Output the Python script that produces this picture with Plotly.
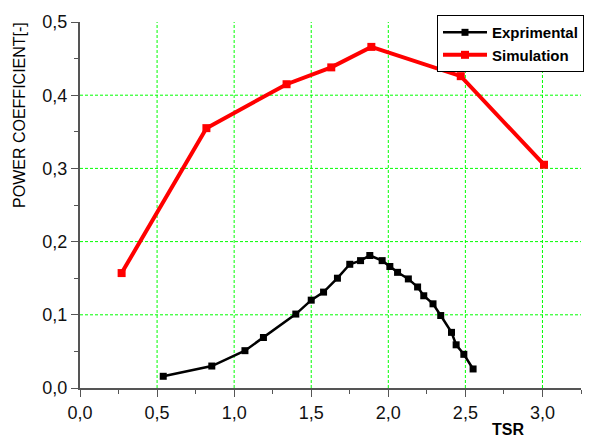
import plotly.graph_objects as go

# ---- data ----
exp_tsr = [0.54, 0.855, 1.07, 1.19, 1.40, 1.50, 1.58, 1.67, 1.75, 1.82, 1.88, 1.96,
           2.01, 2.06, 2.13, 2.19, 2.23, 2.29, 2.34, 2.41, 2.44, 2.49, 2.55]
exp_cp = [0.016, 0.030, 0.051, 0.069, 0.101, 0.120, 0.131, 0.150, 0.169, 0.174, 0.181, 0.174,
          0.166, 0.158, 0.149, 0.138, 0.126, 0.115, 0.099, 0.076, 0.059, 0.046, 0.026]
sim_tsr = [0.27, 0.82, 1.34, 1.63, 1.89, 2.47, 3.01]
sim_cp = [0.157, 0.355, 0.415, 0.438, 0.466, 0.426, 0.305]

x_ticks = [0.0, 0.5, 1.0, 1.5, 2.0, 2.5, 3.0]
y_ticks = [0.0, 0.1, 0.2, 0.3, 0.4, 0.5]
grid_x = [0.5, 1.0, 1.5, 2.0, 2.5, 3.0]
grid_y = [0.1, 0.2, 0.3, 0.4]

FONT = "Liberation Sans, Arial, sans-serif"
AXC = "#555555"
GRID = "#00ff00"

fig = go.Figure()
fig.add_trace(go.Scatter(
    x=exp_tsr, y=exp_cp, mode="lines+markers", name="Exprimental",
    line=dict(color="black", width=2.5),
    marker=dict(symbol="square", size=7, color="black"),
))
fig.add_trace(go.Scatter(
    x=sim_tsr, y=sim_cp, mode="lines+markers", name="Simulation",
    line=dict(color="#ff0000", width=4),
    marker=dict(symbol="square", size=8, color="#ff0000"),
))

shapes = []
for gx in grid_x:
    shapes.append(dict(type="line", xref="x", yref="y", x0=gx, x1=gx, y0=0, y1=0.5,
                       line=dict(color=GRID, width=1, dash="3px,2px"), layer="below"))
for gy in grid_y:
    shapes.append(dict(type="line", xref="x", yref="y", x0=0, x1=3.25, y0=gy, y1=gy,
                       line=dict(color=GRID, width=1, dash="3px,2px"), layer="below"))

fig.update_layout(
    width=597, height=439,
    margin=dict(l=80, r=16, t=18, b=51),
    paper_bgcolor="white", plot_bgcolor="white",
    separators=",.",
    font=dict(family=FONT, color="black"),
    shapes=shapes,
    showlegend=True,
    legend=dict(
        xref="paper", yref="paper", x=(584-80)/501, y=(388-11)/370,
        xanchor="right", yanchor="top",
        bordercolor="black", borderwidth=1, bgcolor="white",
        font=dict(family=FONT, size=15, color="black", weight="bold"),
        tracegroupgap=0, itemwidth=44,
    ),
    xaxis=dict(
        range=[0, 3.25], tickvals=x_ticks, tickformat=".1f",
        showgrid=False, zeroline=False,
        showline=True, linecolor=AXC, linewidth=2,
        ticks="outside", ticklen=7, tickwidth=1, tickcolor=AXC,
        tickfont=dict(family=FONT, size=18, color="#111111"),
        minor=dict(dtick=0.25, tick0=0, ticks="outside", ticklen=4, tickcolor=AXC, showgrid=False),
    ),
    yaxis=dict(
        range=[0, 0.5], tickvals=y_ticks, tickformat=".1f",
        showgrid=False, zeroline=False,
        showline=True, linecolor=AXC, linewidth=2,
        ticks="outside", ticklen=7, tickwidth=1, tickcolor=AXC,
        tickfont=dict(family=FONT, size=18, color="#111111"),
        minor=dict(dtick=0.05, tick0=0, ticks="outside", ticklen=4, tickcolor=AXC, showgrid=False),
    ),
    annotations=[
        dict(text="POWER COEFFICIENT[-]", textangle=-90, xref="paper", yref="paper",
             x=(20-80)/501, y=(388-112)/370, showarrow=False,
             xanchor="center", yanchor="middle",
             font=dict(family=FONT, size=16, color="black")),
        dict(text="<b>TSR</b>", xref="paper", yref="paper",
             x=(508-80)/501, y=(388-430)/370, showarrow=False,
             xanchor="center", yanchor="middle",
             font=dict(family=FONT, size=16, color="black")),
    ],
)

fig.write_html("out.html")
